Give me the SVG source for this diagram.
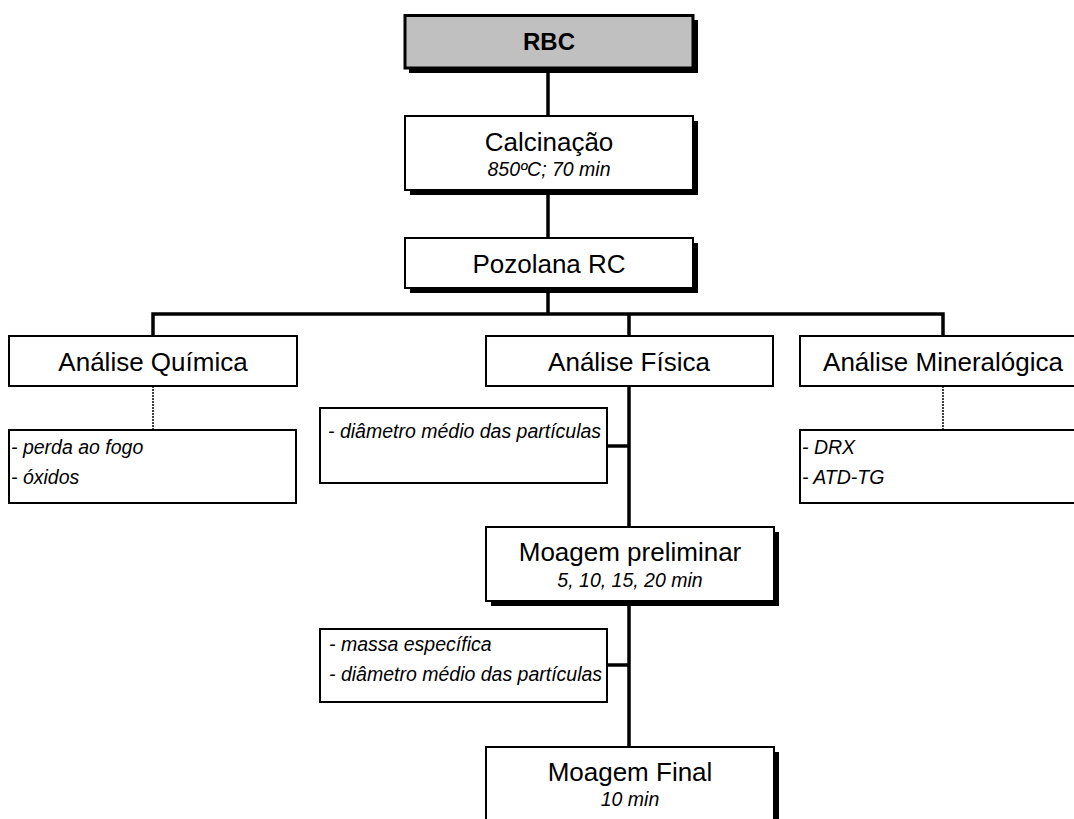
<svg xmlns="http://www.w3.org/2000/svg" width="1074" height="819" viewBox="0 0 1074 819">
<defs>
<style>
.main{fill:#fff;stroke:#000;stroke-width:2}
.shadow{fill:#000}
.box{fill:#fff;stroke:#000;stroke-width:2}
.t{font-family:"Liberation Sans",Arial,sans-serif;font-size:26px;fill:#000;text-anchor:middle}
.b{font-family:"Liberation Sans",Arial,sans-serif;font-size:24px;font-weight:bold;fill:#000;text-anchor:middle}
.s{font-family:"Liberation Sans",Arial,sans-serif;font-size:19.5px;font-style:italic;fill:#000;text-anchor:middle}
.l{font-family:"Liberation Sans",Arial,sans-serif;font-size:19.5px;font-style:italic;fill:#000}
.c{stroke:#000;stroke-width:3.5;fill:none}
.d{stroke:#000;stroke-width:1.5;stroke-dasharray:2 1;fill:none}
</style>
</defs>
<rect width="1074" height="819" fill="#fff"/>
<g id="connectors">
<line class="c" x1="548" y1="68" x2="548" y2="116"/>
<line class="c" x1="548" y1="190" x2="548" y2="238"/>
<line class="c" x1="548" y1="288" x2="548" y2="314"/>
<polyline class="c" points="153,336 153,314 943,314 943,336"/>
<line class="c" x1="629" y1="314" x2="629" y2="336"/>
<line class="c" x1="629" y1="386" x2="629" y2="527"/>
<line class="c" x1="607" y1="446" x2="629" y2="446"/>
<line class="c" x1="629" y1="601" x2="629" y2="747"/>
<line class="c" x1="607" y1="665" x2="629" y2="665"/>
<line class="d" x1="153" y1="386" x2="153" y2="430"/>
<line class="d" x1="943" y1="386" x2="943" y2="430"/>
</g>
<g id="rbc">
<rect class="shadow" x="409" y="20" width="289" height="53"/>
<rect x="405" y="15.5" width="288" height="52.5" fill="#c0c0c0" stroke="#000" stroke-width="3"/>
<text class="b" x="549" y="50">RBC</text>
</g>
<g id="calcinacao">
<rect class="shadow" x="410" y="121" width="288" height="74"/>
<rect class="main" x="405" y="116" width="288" height="74"/>
<text class="t" x="549" y="151">Calcinação</text>
<text class="s" x="549" y="176">850ºC; 70 min</text>
</g>
<g id="pozolana">
<rect class="shadow" x="410" y="243" width="288" height="50"/>
<rect class="main" x="405" y="238" width="288" height="50"/>
<text class="t" x="549" y="272.5">Pozolana RC</text>
</g>
<g id="quimica">
<rect class="box" x="9" y="336" width="288" height="50"/>
<text class="t" x="153" y="370.5">Análise Química</text>
</g>
<g id="fisica">
<rect class="box" x="486" y="336" width="287" height="50"/>
<text class="t" x="629" y="370.5">Análise Física</text>
</g>
<g id="mineralogica">
<rect class="box" x="800" y="336" width="288" height="50"/>
<text class="t" x="943" y="370.5">Análise Mineralógica</text>
</g>
<g id="quimica-itens">
<rect class="box" x="9" y="430" width="287" height="73"/>
<text class="l" x="11" y="454">- perda ao fogo</text>
<text class="l" x="11" y="484">- óxidos</text>
</g>
<g id="fisica-itens">
<rect class="box" x="320" y="408" width="287" height="75"/>
<text class="l" x="328" y="438">- diâmetro médio das partículas</text>
</g>
<g id="mineralogica-itens">
<rect class="box" x="800" y="430" width="288" height="73"/>
<text class="l" x="802" y="454">- DRX</text>
<text class="l" x="802" y="484">- ATD-TG</text>
</g>
<g id="moagem-preliminar">
<rect class="shadow" x="491" y="532" width="288" height="74"/>
<rect class="main" x="486" y="527" width="288" height="74"/>
<text class="t" x="630" y="561">Moagem preliminar</text>
<text class="s" x="630" y="587">5, 10, 15, 20 min</text>
</g>
<g id="moagem-itens">
<rect class="box" x="320" y="629" width="287" height="73"/>
<text class="l" x="329" y="651">- massa específica</text>
<text class="l" x="329" y="681">- diâmetro médio das partículas</text>
</g>
<g id="moagem-final">
<rect class="shadow" x="491" y="752" width="288" height="74"/>
<rect class="main" x="486" y="747" width="288" height="74"/>
<text class="t" x="630" y="781">Moagem Final</text>
<text class="s" x="630" y="806">10 min</text>
</g>
</svg>
